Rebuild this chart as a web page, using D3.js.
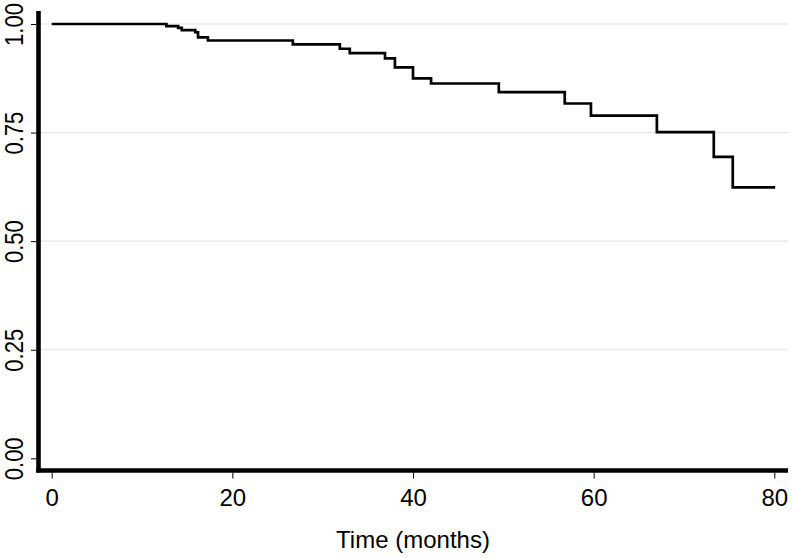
<!DOCTYPE html>
<html>
<head>
<meta charset="utf-8">
<script src="https://cdn.jsdelivr.net/npm/d3@7"></script>
<style>
  html, body { margin: 0; padding: 0; background: #fff; }
  svg { display: block; }
  text { font-family: "Liberation Sans", Arial, Helvetica, sans-serif; fill: #000; }
</style>
</head>
<body>
<svg id="chart" width="792" height="558"></svg>
<script>
// Kaplan-Meier step data (time in months, survival probability)
const times    = [0, 12.7, 14.0, 14.4, 15.9, 16.2, 17.3, 26.7, 31.9, 33.0, 36.9, 38.0, 40.0, 42.0, 49.5, 56.8, 59.7, 67.0, 73.3, 75.4, 80.1];
const survival = [1.0, 0.995, 0.991, 0.986, 0.981, 0.969, 0.962, 0.953, 0.943, 0.933, 0.921, 0.900, 0.875, 0.863, 0.843, 0.817, 0.789, 0.751, 0.694, 0.624, 0.624];
const xTicks = [0, 20, 40, 60, 80];
const yTicks = [0, 0.25, 0.5, 0.75, 1];
const yTickLabels = ["0.00", "0.25", "0.50", "0.75", "1.00"];
const xTitle = "Time (months)";

const svg = d3.select("#chart");
const x = d3.scaleLinear().domain([0, 80]).range([51.7, 774.3]);
const y = d3.scaleLinear().domain([0, 1]).range([458.3, 24]);

// gridlines
svg.append("g").selectAll("line")
  .data(yTicks.filter(d => d > 0))
  .join("line")
  .attr("x1", 41).attr("x2", 788)
  .attr("y1", d => y(d)).attr("y2", d => y(d))
  .attr("stroke", "#e6e6e6").attr("stroke-width", 1.2);

// y axis
const yAxis = d3.axisLeft(y).tickValues(yTicks).tickFormat((d, i) => yTickLabels[i]).tickSize(5).tickPadding(0);
const gy = svg.append("g").attr("transform", "translate(36,0)").call(yAxis);
gy.select(".domain").remove();
gy.selectAll(".tick line").attr("stroke", "#000").attr("stroke-width", 1);
gy.selectAll(".tick text")
  .attr("x", 0).attr("y", 0).attr("dy", null)
  .attr("transform", "translate(-21,0) rotate(-90) scale(0.88,1)")
  .attr("text-anchor", "middle")
  .attr("dominant-baseline", "central")
  .style("font-size", "25px");

// x axis
const xAxis = d3.axisBottom(x).tickValues(xTicks).tickFormat(d3.format("d")).tickSize(6).tickPadding(10);
const gx = svg.append("g").attr("transform", "translate(0,472.5)").call(xAxis);
gx.select(".domain").remove();
gx.selectAll(".tick line").attr("stroke", "#000").attr("stroke-width", 1);
gx.selectAll(".tick text").style("font-size", "24px");

// axis lines (thick)
svg.append("line").attr("x1", 38.5).attr("x2", 38.5).attr("y1", 11).attr("y2", 472.5)
  .attr("stroke", "#000").attr("stroke-width", 4.6);
svg.append("line").attr("x1", 36.2).attr("x2", 788).attr("y1", 470.5).attr("y2", 470.5)
  .attr("stroke", "#000").attr("stroke-width", 4.6);

// KM curve
const pts = times.map((t, i) => [t, survival[i]]);
const line = d3.line().x(d => x(d[0])).y(d => y(d[1])).curve(d3.curveStepAfter);
svg.append("path").datum(pts)
  .attr("d", line)
  .attr("fill", "none").attr("stroke", "#000").attr("stroke-width", 2.7)
  .attr("stroke-linejoin", "miter");

// x title
svg.append("text").attr("x", 413).attr("y", 539)
  .attr("text-anchor", "middle").attr("dominant-baseline", "central")
  .style("font-size", "24px").text(xTitle);
</script>
</body>
</html>
